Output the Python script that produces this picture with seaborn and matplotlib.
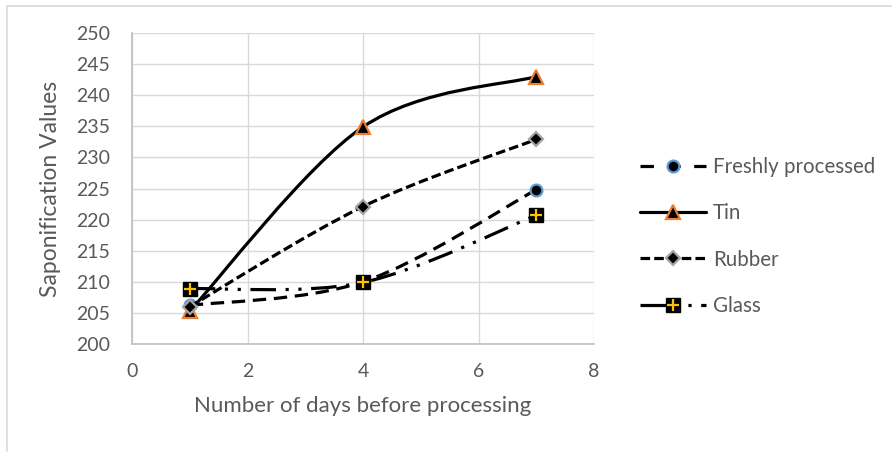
import numpy as np
import pandas as pd
import matplotlib
matplotlib.use("Agg")
import matplotlib.pyplot as plt
from matplotlib.path import Path
from matplotlib.patches import PathPatch
from matplotlib.lines import Line2D
from matplotlib.legend_handler import HandlerTuple
import seaborn as sns

days = [1, 4, 7]
freshly = [206.2, 210.0, 224.8]
tin = [205.3, 234.9, 243.0]
rubber = [206.0, 222.1, 232.9]
glass = [208.9, 209.9, 220.7]
series_names = ["Freshly processed", "Tin", "Rubber", "Glass"]
x_ticks = [0, 2, 4, 6, 8]
y_ticks = [200, 205, 210, 215, 220, 225, 230, 235, 240, 245, 250]

sns.set_theme(style="white")
plt.rcParams["font.family"] = ["Lato", "DejaVu Sans"]

TXT = "#595959"
GRID = "#d9d9d9"

fig = plt.figure(figsize=(8.92, 4.53), dpi=100)
ax = fig.add_axes([132 / 892, 1 - 344 / 453, 462 / 892, 311 / 453])

df = pd.DataFrame({"day": days * 4,
                   "value": freshly + tin + rubber + glass,
                   "series": sum([[n] * 3 for n in series_names], [])})


def smooth_path(xs, ys):
    pts = np.column_stack([xs, ys]).astype(float)
    n = len(pts)
    verts = [pts[0]]
    codes = [Path.MOVETO]
    for i in range(n - 1):
        p0 = pts[i - 1] if i > 0 else pts[i]
        p1 = pts[i]
        p2 = pts[i + 1]
        p3 = pts[i + 2] if i + 2 < n else pts[i + 1]
        c1 = p1 + (p2 - p0) / 6.0
        c2 = p2 - (p3 - p1) / 6.0
        verts += [c1, c2, p2]
        codes += [Path.CURVE4] * 3
    return Path(verts, codes)


LW = 2.3
styles = {
    "Freshly processed": dict(ls=(0, (4.2, 2.4)), marker="o", ms=8.5, mec="#5b9bd5", mew=1.6),
    "Tin": dict(ls="-", marker="^", ms=10, mec="#ed7d31", mew=1.6),
    "Rubber": dict(ls=(0, (3, 1.3)), marker="D", ms=7, mec="#a5a5a5", mew=1.6),
    "Glass": dict(ls=(0, (8, 3, 1, 3, 1, 3)), marker="s", ms=9.5, mec="black", mew=1.0),
}

for i, name in enumerate(series_names):
    sub = df[df["series"] == name]
    st = styles[name]
    patch = PathPatch(smooth_path(sub["day"].values, sub["value"].values),
                      fill=False, edgecolor="black", lw=LW, linestyle=st["ls"],
                      capstyle="butt", zorder=3 + i * 2, transform=ax.transData)
    ax.add_patch(patch)
    sns.lineplot(data=sub, x="day", y="value", ax=ax, linestyle="", marker=st["marker"],
                 markersize=st["ms"], markerfacecolor="black", markeredgecolor=st["mec"],
                 markeredgewidth=st["mew"], color="black", zorder=4 + i * 2, legend=False)
    if name == "Glass":
        ax.plot(sub["day"].values, sub["value"].values, linestyle="", marker="+",
                markersize=8, markeredgecolor="#ffc000", markeredgewidth=1.6, zorder=4 + i * 2 + 0.5)

ax.set_xlim(0, 8)
ax.set_ylim(200, 250)
ax.set_xticks(x_ticks)
ax.set_yticks(y_ticks)
ax.grid(True, color=GRID, lw=1.0, zorder=0)
ax.set_axisbelow(True)
for s in ["top", "right"]:
    ax.spines[s].set_visible(False)
for s in ["left", "bottom"]:
    ax.spines[s].set_color("#bfbfbf")
    ax.spines[s].set_linewidth(1.2)
ax.tick_params(axis="both", length=0, labelsize=14, labelcolor=TXT)
ax.tick_params(axis="y", pad=16)
ax.tick_params(axis="x", pad=14)
ax.set_xlabel("Number of days before processing", fontsize=16, color=TXT)
ax.set_ylabel("Saponification Values", fontsize=16.5, color=TXT)
ax.xaxis.set_label_coords(0.5, (344 - 396) / 311)
ax.yaxis.set_label_coords((61 - 132) / 462, 0.5)

# legend
handles = []
for name in series_names:
    st = styles[name]
    leg_ls = (0, (4.2, 4.2)) if name == "Freshly processed" else st["ls"]
    h = Line2D([], [], color="black", lw=LW, linestyle=leg_ls, marker=st["marker"],
               markersize=st["ms"], markerfacecolor="black", markeredgecolor=st["mec"],
               markeredgewidth=st["mew"])
    if name == "Glass":
        plus = Line2D([], [], linestyle="", marker="+", markersize=8,
                      markeredgecolor="#ffc000", markeredgewidth=1.6)
        h = (h, plus)
    handles.append(h)
leg = fig.legend(handles, series_names, loc="upper left",
                 bbox_to_anchor=(640 / 892, 1 - 157 / 453), frameon=False,
                 fontsize=14.8, handlelength=3.2, handletextpad=0.35, labelspacing=1.28,
                 borderaxespad=0, borderpad=0,
                 handler_map={tuple: HandlerTuple(ndivide=1, pad=0)})
for t in leg.get_texts():
    t.set_color(TXT)

# chart area border
fig.add_artist(Line2D([7 / 892, 1], [1 - 6 / 453, 1 - 6 / 453], transform=fig.transFigure,
                      color=GRID, lw=1.2))
fig.add_artist(Line2D([7 / 892, 7 / 892], [1 - 6 / 453, 1 - 451 / 453], transform=fig.transFigure,
                      color=GRID, lw=1.2))

fig.savefig("out.png", dpi=100)
